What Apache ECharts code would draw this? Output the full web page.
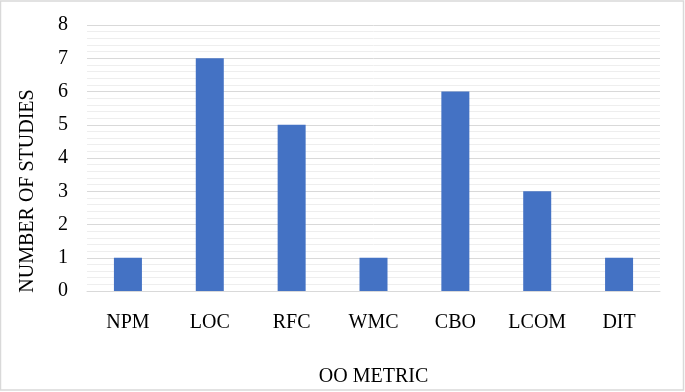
<!DOCTYPE html>
<html>
<head>
<meta charset="utf-8">
<script src="https://cdn.jsdelivr.net/npm/echarts@6/dist/echarts.min.js"></script>
<style>
html,body{margin:0;padding:0;background:#fff;}
#chart{width:685px;height:392px;}
</style>
</head>
<body>
<div id="chart"></div>
<script>
const categories = ['NPM', 'LOC', 'RFC', 'WMC', 'CBO', 'LCOM', 'DIT'];
const studies = [1, 7, 5, 1, 6, 3, 1];
const yTicks = [0, 1, 2, 3, 4, 5, 6, 7, 8];

const chart = echarts.init(document.getElementById('chart'), null, {renderer: 'canvas'});
const font = 'Liberation Serif';
chart.setOption({
  animation: false,
  backgroundColor: '#fff',
  graphic: [{
    type: 'rect',
    shape: {x: 0.5, y: 1, width: 683, height: 389},
    style: {fill: 'none', stroke: '#D9D9D9', lineWidth: 1.5},
    silent: true
  }],
  grid: {left: 87, right: 25, top: 25, bottom: 94.5, containLabel: false},
  xAxis: {
    type: 'category',
    data: categories,
    name: 'OO METRIC',
    nameLocation: 'middle',
    nameGap: 76,
    nameTextStyle: {fontFamily: font, fontSize: 20, color: '#000'},
    axisLine: {show: true, lineStyle: {color: '#D9D9D9', width: 1}},
    axisTick: {show: false},
    axisLabel: {fontFamily: font, fontSize: 20, color: '#000', margin: 22}
  },
  yAxis: {
    type: 'value',
    min: yTicks[0],
    max: yTicks[yTicks.length - 1],
    interval: 1,
    name: 'NUMBER OF STUDIES',
    nameLocation: 'middle',
    nameGap: 49,
    nameRotate: 90,
    nameTextStyle: {fontFamily: font, fontSize: 20, color: '#000', padding: [0, 66, 0, 0]},
    axisLine: {show: false},
    axisTick: {show: false},
    axisLabel: {fontFamily: font, fontSize: 20, color: '#000', margin: 19},
    splitLine: {show: true, lineStyle: {color: '#D9D9D9', width: 1}},
    minorTick: {show: false, splitNumber: 5},
    minorSplitLine: {show: true, lineStyle: {color: '#EEEEEE', width: 1}}
  },
  series: [{
    type: 'bar',
    data: studies,
    barWidth: 28,
    itemStyle: {color: '#4472C4'}
  }]
});
</script>
</body>
</html>
